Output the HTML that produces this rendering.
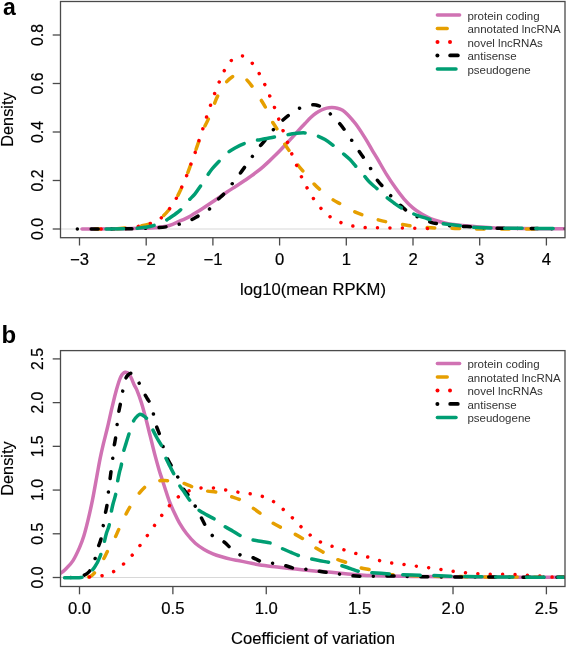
<!DOCTYPE html>
<html><head><meta charset="utf-8"><title>Density plots</title>
<style>
html,body{margin:0;padding:0;background:#fff;}
body{width:567px;height:645px;overflow:hidden;}
svg{display:block;font-family:"Liberation Sans", sans-serif;will-change:transform;}
</style></head>
<body>
<svg width="567" height="645" viewBox="0 0 567 645">
<rect width="567" height="645" fill="#fff"/>
<clipPath id="ca"><rect x="61.00" y="2.00" width="503.50" height="235.20"/></clipPath>
<line x1="60.50" y1="229.00" x2="565.00" y2="229.00" stroke="#d8d8d8" stroke-width="1.2"/>
<path id="ca_pink" d="M82.00,229.00 C86.67,228.97 100.33,228.92 110.00,228.80 C119.67,228.68 132.50,228.47 140.00,228.30 C147.50,228.13 150.10,228.27 155.00,227.80 C159.90,227.33 165.40,226.57 169.40,225.50 C173.40,224.43 176.40,222.52 179.00,221.40 C181.60,220.28 183.00,219.75 185.00,218.80 C187.00,217.85 189.00,216.82 191.00,215.70 C193.00,214.58 195.00,213.33 197.00,212.10 C199.00,210.87 201.00,209.60 203.00,208.30 C205.00,207.00 207.00,205.65 209.00,204.30 C211.00,202.95 213.00,201.57 215.00,200.20 C217.00,198.83 219.00,197.47 221.00,196.10 C223.00,194.73 225.00,193.33 227.00,192.00 C229.00,190.67 231.00,189.38 233.00,188.10 C235.00,186.82 237.00,185.60 239.00,184.30 C241.00,183.00 243.00,181.65 245.00,180.30 C247.00,178.95 249.00,177.63 251.00,176.20 C253.00,174.77 255.00,173.27 257.00,171.70 C259.00,170.13 261.00,168.52 263.00,166.80 C265.00,165.08 267.00,163.27 269.00,161.40 C271.00,159.53 273.00,157.58 275.00,155.60 C277.00,153.62 279.00,151.58 281.00,149.50 C283.00,147.42 285.00,145.25 287.00,143.10 C289.00,140.95 291.00,138.80 293.00,136.60 C295.00,134.40 297.00,132.08 299.00,129.90 C301.00,127.72 303.00,125.60 305.00,123.50 C307.00,121.40 309.13,119.05 311.00,117.30 C312.87,115.55 314.45,114.22 316.20,113.00 C317.95,111.78 319.75,110.82 321.50,110.00 C323.25,109.18 324.95,108.50 326.70,108.10 C328.45,107.70 330.23,107.58 332.00,107.60 C333.77,107.62 335.53,107.75 337.30,108.20 C339.07,108.65 340.90,109.25 342.60,110.30 C344.30,111.35 345.87,112.88 347.50,114.50 C349.13,116.12 350.75,118.05 352.40,120.00 C354.05,121.95 355.75,123.93 357.40,126.20 C359.05,128.47 360.65,131.03 362.30,133.60 C363.95,136.17 365.63,138.82 367.30,141.60 C368.97,144.38 370.65,147.50 372.30,150.30 C373.95,153.10 374.83,154.38 377.20,158.40 C379.57,162.42 383.48,169.53 386.50,174.40 C389.52,179.27 392.37,183.48 395.30,187.60 C398.23,191.72 401.17,195.72 404.10,199.10 C407.03,202.48 409.97,205.40 412.90,207.90 C415.83,210.40 418.77,212.33 421.70,214.10 C424.63,215.87 427.55,217.27 430.50,218.50 C433.45,219.73 436.45,220.62 439.40,221.50 C442.35,222.38 444.38,223.12 448.20,223.80 C452.02,224.48 457.60,225.10 462.30,225.60 C467.00,226.10 470.98,226.40 476.40,226.80 C481.82,227.20 487.53,227.72 494.80,228.00 C502.07,228.28 507.97,228.37 520.00,228.50 C532.03,228.63 559.17,228.75 567.00,228.80" fill="none" stroke="#D072B3" stroke-width="3.50" stroke-linecap="round" stroke-linejoin="round" clip-path="url(#ca)"/>
<path id="ca_orange" d="M95.00,229.00 C99.17,228.92 112.73,228.97 120.00,228.50 C127.27,228.03 133.65,226.98 138.60,226.20 C143.55,225.42 145.97,225.22 149.70,223.80 C153.43,222.38 157.72,220.13 161.00,217.70 C164.28,215.27 166.88,212.37 169.40,209.20 C171.92,206.03 174.07,202.27 176.10,198.70 C178.13,195.13 179.85,191.62 181.60,187.80 C183.35,183.98 185.05,179.75 186.60,175.80 C188.15,171.85 189.50,167.98 190.90,164.10 C192.30,160.22 193.65,156.38 195.00,152.50 C196.35,148.62 197.58,144.72 199.00,140.80 C200.42,136.88 201.97,132.57 203.50,129.00 C205.03,125.43 206.53,123.22 208.20,119.40 C209.87,115.58 211.93,109.98 213.50,106.10 C215.07,102.22 215.68,99.83 217.60,96.10 C219.52,92.37 222.53,86.93 225.00,83.70 C227.47,80.47 230.07,78.27 232.40,76.70 C234.73,75.13 236.72,73.88 239.00,74.30 C241.28,74.72 243.80,77.03 246.10,79.20 C248.40,81.37 250.45,84.07 252.80,87.30 C255.15,90.53 258.00,95.10 260.20,98.60 C262.40,102.10 264.08,104.63 266.00,108.30 C267.92,111.97 269.75,116.95 271.70,120.60 C273.65,124.25 275.63,126.48 277.70,130.20 C279.77,133.92 282.08,139.32 284.10,142.90 C286.12,146.48 287.60,148.17 289.80,151.70 C292.00,155.23 295.03,160.78 297.30,164.10 C299.57,167.42 300.67,168.35 303.40,171.60 C306.13,174.85 310.88,180.55 313.70,183.60 C316.52,186.65 317.25,187.32 320.30,189.90 C323.35,192.48 328.53,196.70 332.00,199.10 C335.47,201.50 337.45,202.25 341.10,204.30 C344.75,206.35 350.15,209.58 353.90,211.40 C357.65,213.22 359.78,213.87 363.60,215.20 C367.42,216.53 372.85,218.27 376.80,219.40 C380.75,220.53 383.20,221.18 387.30,222.00 C391.40,222.82 397.28,223.62 401.40,224.30 C405.52,224.98 407.85,225.58 412.00,226.10 C416.15,226.62 422.10,227.08 426.30,227.40 C430.50,227.72 433.08,227.85 437.20,228.00 C441.32,228.15 446.82,228.20 451.00,228.30 C455.18,228.40 456.47,228.48 462.30,228.60 C468.13,228.72 473.88,228.92 486.00,229.00 C498.12,229.08 526.83,229.08 535.00,229.10" fill="none" stroke="#E69F00" stroke-width="3.50" stroke-linecap="round" stroke-linejoin="round" stroke-dasharray="7.8 17.0" stroke-dashoffset="2.95" clip-path="url(#ca)"/>
<path id="ca_red" d="M100.90,229.00 C104.92,228.93 116.78,229.52 125.00,228.60 C133.22,227.68 144.20,225.27 150.20,223.50 C156.20,221.73 157.80,220.42 161.00,218.00 C164.20,215.58 166.88,212.22 169.40,209.00 C171.92,205.78 174.07,202.30 176.10,198.70 C178.13,195.10 179.85,191.22 181.60,187.40 C183.35,183.58 185.05,179.68 186.60,175.80 C188.15,171.92 189.47,167.98 190.90,164.10 C192.33,160.22 193.85,156.42 195.20,152.50 C196.55,148.58 197.72,144.57 199.00,140.60 C200.28,136.63 201.65,132.62 202.90,128.70 C204.15,124.78 205.23,121.00 206.50,117.10 C207.77,113.20 209.13,109.27 210.50,105.30 C211.87,101.33 213.25,97.18 214.70,93.30 C216.15,89.42 217.58,85.80 219.20,82.00 C220.82,78.20 222.35,74.12 224.40,70.50 C226.45,66.88 228.50,62.73 231.50,60.30 C234.50,57.87 238.93,55.40 242.40,55.90 C245.87,56.40 249.50,60.37 252.30,63.30 C255.10,66.23 257.12,69.95 259.20,73.50 C261.28,77.05 263.03,80.83 264.80,84.60 C266.57,88.37 268.18,92.28 269.80,96.10 C271.42,99.92 273.00,103.65 274.50,107.50 C276.00,111.35 277.35,115.27 278.80,119.20 C280.25,123.13 281.73,127.20 283.20,131.10 C284.67,135.00 286.13,138.72 287.60,142.60 C289.07,146.48 290.47,150.53 292.00,154.40 C293.53,158.27 295.18,161.98 296.80,165.80 C298.42,169.62 299.97,173.58 301.70,177.30 C303.43,181.02 305.20,184.50 307.20,188.10 C309.20,191.70 311.35,195.47 313.70,198.90 C316.05,202.33 318.50,205.67 321.30,208.70 C324.10,211.73 327.13,214.73 330.50,217.10 C333.87,219.47 337.67,221.38 341.50,222.90 C345.33,224.42 349.47,225.42 353.50,226.20 C357.53,226.98 361.58,227.33 365.70,227.60 C369.82,227.87 371.98,227.73 378.20,227.80 C384.42,227.87 394.67,227.87 403.00,228.00 C411.33,228.13 424.00,228.50 428.20,228.60" fill="none" stroke="#FF0000" stroke-width="3.50" stroke-linecap="round" stroke-linejoin="round" stroke-dasharray="0.01 12.39" stroke-dashoffset="12.00" clip-path="url(#ca)"/>
<path id="ca_black" d="M76.20,229.00 C80.03,229.00 91.23,229.03 99.20,229.00 C107.17,228.97 118.37,228.83 124.00,228.80 C129.63,228.77 127.75,228.97 133.00,228.80 C138.25,228.63 149.82,228.15 155.50,227.80 C161.18,227.45 163.33,227.25 167.10,226.70 C170.87,226.15 174.32,225.53 178.10,224.50 C181.88,223.47 186.45,221.92 189.80,220.50 C193.15,219.08 195.00,217.85 198.20,216.00 C201.40,214.15 205.83,212.03 209.00,209.40 C212.17,206.77 214.70,202.80 217.20,200.20 C219.70,197.60 221.53,196.50 224.00,193.80 C226.47,191.10 229.48,187.17 232.00,184.00 C234.52,180.83 236.85,177.80 239.10,174.80 C241.35,171.80 243.33,169.00 245.50,166.00 C247.67,163.00 249.80,159.97 252.10,156.80 C254.40,153.63 257.18,149.70 259.30,147.00 C261.42,144.30 262.47,143.47 264.80,140.60 C267.13,137.73 270.52,133.00 273.30,129.80 C276.08,126.60 278.82,123.92 281.50,121.40 C284.18,118.88 286.38,116.90 289.40,114.70 C292.42,112.50 296.07,109.78 299.60,108.20 C303.13,106.62 307.87,105.73 310.60,105.20 C313.33,104.67 314.10,104.62 316.00,105.00 C317.90,105.38 319.47,105.88 322.00,107.50 C324.53,109.12 328.28,112.03 331.20,114.70 C334.12,117.37 337.02,120.62 339.50,123.50 C341.98,126.38 343.93,129.00 346.10,132.00 C348.27,135.00 350.32,138.27 352.50,141.50 C354.68,144.73 357.08,148.32 359.20,151.40 C361.32,154.48 363.15,156.90 365.20,160.00 C367.25,163.10 369.43,166.57 371.50,170.00 C373.57,173.43 375.55,177.67 377.60,180.60 C379.65,183.53 381.45,184.90 383.80,187.60 C386.15,190.30 388.77,193.72 391.70,196.80 C394.63,199.88 398.60,203.57 401.40,206.10 C404.20,208.63 405.55,210.08 408.50,212.00 C411.45,213.92 415.35,215.88 419.10,217.60 C422.85,219.32 427.45,221.20 431.00,222.30 C434.55,223.40 436.80,223.55 440.40,224.20 C444.00,224.85 448.17,225.80 452.60,226.20 C457.03,226.60 462.43,226.38 467.00,226.60 C471.57,226.82 474.50,227.22 480.00,227.50 C485.50,227.78 491.17,228.13 500.00,228.30 C508.83,228.47 521.83,228.42 533.00,228.50 C544.17,228.58 561.33,228.75 567.00,228.80" fill="none" stroke="#000000" stroke-width="3.50" stroke-linecap="round" stroke-linejoin="round" stroke-dasharray="0.01 13.5 7.0 13.49" stroke-dashoffset="32.60" clip-path="url(#ca)"/>
<path id="ca_green" d="M95.00,229.00 C99.67,228.97 116.53,228.88 123.00,228.80 C129.47,228.72 130.13,228.75 133.80,228.50 C137.47,228.25 141.73,227.78 145.00,227.30 C148.27,226.82 150.23,226.58 153.40,225.60 C156.57,224.62 161.23,222.72 164.00,221.40 C166.77,220.08 167.33,219.53 170.00,217.70 C172.67,215.87 176.93,213.22 180.00,210.40 C183.07,207.58 185.90,203.57 188.40,200.80 C190.90,198.03 192.97,196.28 195.00,193.80 C197.03,191.32 198.62,188.82 200.60,185.90 C202.58,182.98 205.00,179.12 206.90,176.30 C208.80,173.48 210.02,171.45 212.00,169.00 C213.98,166.55 216.22,164.27 218.80,161.60 C221.38,158.93 224.80,155.27 227.50,153.00 C230.20,150.73 232.22,149.58 235.00,148.00 C237.78,146.42 240.87,144.73 244.20,143.50 C247.53,142.27 251.53,141.38 255.00,140.60 C258.47,139.82 261.77,139.40 265.00,138.80 C268.23,138.20 270.92,137.63 274.40,137.00 C277.88,136.37 282.47,135.58 285.90,135.00 C289.33,134.42 291.77,133.85 295.00,133.50 C298.23,133.15 301.77,132.57 305.30,132.90 C308.83,133.23 312.92,134.40 316.20,135.50 C319.48,136.60 322.12,137.82 325.00,139.50 C327.88,141.18 330.67,143.42 333.50,145.60 C336.33,147.78 339.25,150.27 342.00,152.60 C344.75,154.93 347.65,157.25 350.00,159.60 C352.35,161.95 353.85,164.13 356.10,166.70 C358.35,169.27 361.18,172.35 363.50,175.00 C365.82,177.65 367.78,180.35 370.00,182.60 C372.22,184.85 374.05,186.05 376.80,188.50 C379.55,190.95 383.63,194.88 386.50,197.30 C389.37,199.72 391.52,201.23 394.00,203.00 C396.48,204.77 398.40,206.20 401.40,207.90 C404.40,209.60 408.90,211.80 412.00,213.20 C415.10,214.60 417.50,215.42 420.00,216.30 C422.50,217.18 423.47,217.35 427.00,218.50 C430.53,219.65 437.37,222.20 441.20,223.20 C445.03,224.20 446.60,224.07 450.00,224.50 C453.40,224.93 457.90,225.35 461.60,225.80 C465.30,226.25 467.03,226.83 472.20,227.20 C477.37,227.57 484.13,227.82 492.60,228.00 C501.07,228.18 512.52,228.22 523.00,228.30 C533.48,228.38 550.08,228.47 555.50,228.50" fill="none" stroke="#009E73" stroke-width="3.50" stroke-linecap="round" stroke-linejoin="round" stroke-dasharray="17.3 13.7" stroke-dashoffset="19.85" clip-path="url(#ca)"/>
<rect x="60.50" y="1.50" width="504.50" height="236.20" fill="none" stroke="#4a4a4a" stroke-width="1.3"/>
<line x1="52.7" y1="229.00" x2="60.50" y2="229.00" stroke="#4a4a4a" stroke-width="1.3"/>
<text transform="translate(43.2,229.00) rotate(-90) scale(1,1.06)" text-anchor="middle" font-size="15.8" stroke="#000" stroke-width="0.2">0.0</text>
<line x1="52.7" y1="180.50" x2="60.50" y2="180.50" stroke="#4a4a4a" stroke-width="1.3"/>
<text transform="translate(43.2,180.50) rotate(-90) scale(1,1.06)" text-anchor="middle" font-size="15.8" stroke="#000" stroke-width="0.2">0.2</text>
<line x1="52.7" y1="132.00" x2="60.50" y2="132.00" stroke="#4a4a4a" stroke-width="1.3"/>
<text transform="translate(43.2,132.00) rotate(-90) scale(1,1.06)" text-anchor="middle" font-size="15.8" stroke="#000" stroke-width="0.2">0.4</text>
<line x1="52.7" y1="83.50" x2="60.50" y2="83.50" stroke="#4a4a4a" stroke-width="1.3"/>
<text transform="translate(43.2,83.50) rotate(-90) scale(1,1.06)" text-anchor="middle" font-size="15.8" stroke="#000" stroke-width="0.2">0.6</text>
<line x1="52.7" y1="35.00" x2="60.50" y2="35.00" stroke="#4a4a4a" stroke-width="1.3"/>
<text transform="translate(43.2,35.00) rotate(-90) scale(1,1.06)" text-anchor="middle" font-size="15.8" stroke="#000" stroke-width="0.2">0.8</text>
<line x1="79.50" y1="237.70" x2="79.50" y2="245.50" stroke="#4a4a4a" stroke-width="1.3"/>
<text transform="translate(79.50,264.60) scale(1.04,1)" text-anchor="middle" font-size="16" stroke="#000" stroke-width="0.2">−3</text>
<line x1="146.20" y1="237.70" x2="146.20" y2="245.50" stroke="#4a4a4a" stroke-width="1.3"/>
<text transform="translate(146.20,264.60) scale(1.04,1)" text-anchor="middle" font-size="16" stroke="#000" stroke-width="0.2">−2</text>
<line x1="212.90" y1="237.70" x2="212.90" y2="245.50" stroke="#4a4a4a" stroke-width="1.3"/>
<text transform="translate(212.90,264.60) scale(1.04,1)" text-anchor="middle" font-size="16" stroke="#000" stroke-width="0.2">−1</text>
<line x1="279.60" y1="237.70" x2="279.60" y2="245.50" stroke="#4a4a4a" stroke-width="1.3"/>
<text transform="translate(279.60,264.60) scale(1.04,1)" text-anchor="middle" font-size="16" stroke="#000" stroke-width="0.2">0</text>
<line x1="346.30" y1="237.70" x2="346.30" y2="245.50" stroke="#4a4a4a" stroke-width="1.3"/>
<text transform="translate(346.30,264.60) scale(1.04,1)" text-anchor="middle" font-size="16" stroke="#000" stroke-width="0.2">1</text>
<line x1="413.00" y1="237.70" x2="413.00" y2="245.50" stroke="#4a4a4a" stroke-width="1.3"/>
<text transform="translate(413.00,264.60) scale(1.04,1)" text-anchor="middle" font-size="16" stroke="#000" stroke-width="0.2">2</text>
<line x1="479.70" y1="237.70" x2="479.70" y2="245.50" stroke="#4a4a4a" stroke-width="1.3"/>
<text transform="translate(479.70,264.60) scale(1.04,1)" text-anchor="middle" font-size="16" stroke="#000" stroke-width="0.2">3</text>
<line x1="546.40" y1="237.70" x2="546.40" y2="245.50" stroke="#4a4a4a" stroke-width="1.3"/>
<text transform="translate(546.40,264.60) scale(1.04,1)" text-anchor="middle" font-size="16" stroke="#000" stroke-width="0.2">4</text>
<text transform="translate(313,294.90) scale(1.02,1)" text-anchor="middle" font-size="16.3" stroke="#000" stroke-width="0.15">log10(mean RPKM)</text>
<text transform="translate(13.2,119.60) rotate(-90) scale(1,1.0)" text-anchor="middle" font-size="16.3" stroke="#000" stroke-width="0.15">Density</text>
<line x1="437.40" y1="15.10" x2="459.60" y2="15.10" stroke="#D072B3" stroke-width="3.50" stroke-linecap="round"/>
<text x="467.4" y="19.70" font-size="11.5" fill="#333">protein coding</text>
<line x1="437.40" y1="28.55" x2="447.20" y2="28.55" stroke="#E69F00" stroke-width="3.50" stroke-linecap="round"/>
<text x="467.4" y="33.15" font-size="11.5" fill="#333">annotated lncRNA</text>
<circle cx="437.5" cy="42.00" r="2.0" fill="#FF0000"/>
<circle cx="450.0" cy="42.00" r="2.0" fill="#FF0000"/>
<text x="467.4" y="46.60" font-size="11.5" fill="#333">novel lncRNAs</text>
<circle cx="437.4" cy="55.45" r="2.0" fill="#000000"/>
<line x1="450.2" y1="55.45" x2="457.8" y2="55.45" stroke="#000000" stroke-width="3.80" stroke-linecap="round"/>
<text x="467.4" y="60.05" font-size="11.5" fill="#333">antisense</text>
<line x1="437.40" y1="68.90" x2="456.00" y2="68.90" stroke="#009E73" stroke-width="3.50" stroke-linecap="round"/>
<text x="467.4" y="73.50" font-size="11.5" fill="#333">pseudogene</text>
<text x="3.00" y="14.60" font-size="23.0" font-weight="bold">a</text>
<clipPath id="cb"><rect x="61.00" y="351.10" width="503.50" height="234.90"/></clipPath>
<line x1="60.50" y1="577.50" x2="565.00" y2="577.50" stroke="#d8d8d8" stroke-width="1.2"/>
<path id="cb_pink" d="M50.00,577.00 C51.67,576.43 57.25,575.07 60.00,573.60 C62.75,572.13 64.33,570.37 66.50,568.20 C68.67,566.03 70.83,564.03 73.00,560.60 C75.17,557.17 77.68,551.75 79.50,547.60 C81.32,543.45 82.45,540.40 83.90,535.70 C85.35,531.00 86.77,525.37 88.20,519.40 C89.63,513.43 91.05,507.13 92.50,499.90 C93.95,492.67 95.63,482.87 96.90,476.00 C98.17,469.13 99.05,463.92 100.10,458.70 C101.15,453.48 101.95,449.98 103.20,444.70 C104.45,439.42 106.13,433.18 107.60,427.00 C109.07,420.82 110.53,413.77 112.00,407.60 C113.47,401.43 114.93,395.13 116.40,390.00 C117.87,384.87 119.32,379.75 120.80,376.80 C122.28,373.85 123.82,372.60 125.30,372.30 C126.78,372.00 128.23,372.93 129.70,375.00 C131.17,377.07 132.87,382.10 134.10,384.70 C135.33,387.30 135.87,387.57 137.10,390.60 C138.33,393.63 140.03,398.20 141.50,402.90 C142.97,407.60 144.43,413.22 145.90,418.80 C147.37,424.38 148.83,430.52 150.30,436.40 C151.77,442.28 153.23,448.52 154.70,454.10 C156.17,459.68 157.88,465.75 159.10,469.90 C160.32,474.05 161.02,475.95 162.00,479.00 C162.98,482.05 163.77,484.47 165.00,488.20 C166.23,491.93 167.88,497.38 169.40,501.40 C170.92,505.42 172.43,508.72 174.10,512.30 C175.77,515.88 177.33,519.37 179.40,522.90 C181.47,526.43 183.85,530.12 186.50,533.50 C189.15,536.88 192.37,540.55 195.30,543.20 C198.23,545.85 201.17,547.63 204.10,549.40 C207.03,551.17 209.97,552.57 212.90,553.80 C215.83,555.03 218.77,555.92 221.70,556.80 C224.63,557.68 227.55,558.43 230.50,559.10 C233.45,559.77 236.45,560.22 239.40,560.80 C242.35,561.38 244.77,561.90 248.20,562.60 C251.63,563.30 255.17,564.27 260.00,565.00 C264.83,565.73 271.23,566.32 277.20,567.00 C283.17,567.68 289.60,568.45 295.80,569.10 C302.00,569.75 307.03,570.22 314.40,570.90 C321.77,571.58 330.40,572.42 340.00,573.20 C349.60,573.98 358.67,575.05 372.00,575.60 C385.33,576.15 402.00,576.27 420.00,576.50 C438.00,576.73 455.50,576.87 480.00,577.00 C504.50,577.13 552.50,577.25 567.00,577.30" fill="none" stroke="#D072B3" stroke-width="3.50" stroke-linecap="round" stroke-linejoin="round" clip-path="url(#cb)"/>
<path id="cb_orange" d="M80.00,577.50 C81.67,577.33 87.33,577.58 90.00,576.50 C92.67,575.42 93.87,573.68 96.00,571.00 C98.13,568.32 100.82,563.82 102.80,560.40 C104.78,556.98 105.92,554.18 107.90,550.50 C109.88,546.82 112.85,541.90 114.70,538.30 C116.55,534.70 117.28,532.60 119.00,528.90 C120.72,525.20 123.15,519.80 125.00,516.10 C126.85,512.40 127.92,510.27 130.10,506.70 C132.28,503.13 135.63,497.97 138.10,494.70 C140.57,491.43 142.75,489.05 144.90,487.10 C147.05,485.15 148.88,484.02 151.00,483.00 C153.12,481.98 155.60,481.40 157.60,481.00 C159.60,480.60 161.18,480.65 163.00,480.60 C164.82,480.55 166.50,480.55 168.50,480.70 C170.50,480.85 172.65,481.13 175.00,481.50 C177.35,481.87 179.72,482.02 182.60,482.90 C185.48,483.78 189.57,485.82 192.30,486.80 C195.03,487.78 196.70,488.12 199.00,488.80 C201.30,489.48 203.15,490.35 206.10,490.90 C209.05,491.45 213.88,491.62 216.70,492.10 C219.52,492.58 220.75,493.12 223.00,493.80 C225.25,494.48 227.37,495.22 230.20,496.20 C233.03,497.18 237.37,498.48 240.00,499.70 C242.63,500.92 243.98,502.20 246.00,503.50 C248.02,504.80 249.63,505.80 252.10,507.50 C254.57,509.20 258.48,511.95 260.80,513.70 C263.12,515.45 264.13,516.52 266.00,518.00 C267.87,519.48 269.45,521.00 272.00,522.60 C274.55,524.20 278.63,526.28 281.30,527.60 C283.97,528.92 285.90,529.50 288.00,530.50 C290.10,531.50 291.30,532.17 293.90,533.60 C296.50,535.03 301.08,537.53 303.60,539.10 C306.12,540.67 307.20,541.67 309.00,543.00 C310.80,544.33 311.90,545.48 314.40,547.10 C316.90,548.72 321.40,551.22 324.00,552.70 C326.60,554.18 327.87,554.90 330.00,556.00 C332.13,557.10 334.05,558.20 336.80,559.30 C339.55,560.40 343.80,561.62 346.50,562.60 C349.20,563.58 350.70,564.35 353.00,565.20 C355.30,566.05 357.43,566.93 360.30,567.70 C363.17,568.47 366.92,569.08 370.20,569.80 C373.48,570.52 376.70,571.22 380.00,572.00 C383.30,572.78 384.75,573.92 390.00,574.50 C395.25,575.08 406.33,575.25 411.50,575.50 C416.67,575.75 414.58,575.83 421.00,576.00 C427.42,576.17 436.83,576.33 450.00,576.50 C463.17,576.67 480.50,576.87 500.00,577.00 C519.50,577.13 555.83,577.25 567.00,577.30" fill="none" stroke="#E69F00" stroke-width="3.50" stroke-linecap="round" stroke-linejoin="round" stroke-dasharray="7.8 17.0" stroke-dashoffset="16.55" clip-path="url(#cb)"/>
<path id="cb_red" d="M89.30,577.00 C91.35,576.80 97.65,576.65 101.60,575.80 C105.55,574.95 109.38,573.83 113.00,571.90 C116.62,569.97 120.13,566.93 123.30,564.20 C126.47,561.47 129.25,558.58 132.00,555.50 C134.75,552.42 137.27,549.00 139.80,545.70 C142.33,542.40 144.77,539.05 147.20,535.70 C149.63,532.35 152.00,528.95 154.40,525.60 C156.80,522.25 159.13,518.88 161.60,515.60 C164.07,512.32 166.43,509.00 169.20,505.90 C171.97,502.80 174.93,499.50 178.20,497.00 C181.47,494.50 184.98,492.42 188.80,490.90 C192.62,489.38 197.05,488.40 201.10,487.90 C205.15,487.40 209.03,487.55 213.10,487.90 C217.17,488.25 221.38,489.30 225.50,490.00 C229.62,490.70 233.68,491.47 237.80,492.10 C241.92,492.73 246.12,493.08 250.20,493.80 C254.28,494.52 258.42,495.10 262.30,496.40 C266.18,497.70 270.00,499.43 273.50,501.60 C277.00,503.77 280.12,506.67 283.30,509.40 C286.48,512.13 289.65,515.12 292.60,518.00 C295.55,520.88 298.05,523.85 301.00,526.70 C303.95,529.55 307.08,532.57 310.30,535.10 C313.52,537.63 316.68,540.05 320.30,541.90 C323.92,543.75 328.02,544.87 332.00,546.20 C335.98,547.53 340.20,548.68 344.20,549.90 C348.20,551.12 352.02,552.30 356.00,553.50 C359.98,554.70 364.10,555.90 368.10,557.10 C372.10,558.30 376.02,559.70 380.00,560.70 C383.98,561.70 387.92,562.45 392.00,563.10 C396.08,563.75 400.37,564.08 404.50,564.60 C408.63,565.12 412.72,565.68 416.80,566.20 C420.88,566.72 424.88,567.15 429.00,567.70 C433.12,568.25 437.38,568.88 441.50,569.50 C445.62,570.12 449.62,570.87 453.70,571.40 C457.78,571.93 461.85,572.30 466.00,572.70 C470.15,573.10 474.42,573.53 478.60,573.80 C482.78,574.07 486.95,574.22 491.10,574.30 C495.25,574.38 499.33,574.27 503.50,574.30 C507.67,574.33 511.98,574.32 516.10,574.50 C520.22,574.68 524.17,575.15 528.20,575.40 C532.23,575.65 536.18,575.72 540.30,576.00 C544.42,576.28 548.45,576.88 552.90,577.10 C557.35,577.32 564.65,577.27 567.00,577.30" fill="none" stroke="#FF0000" stroke-width="3.50" stroke-linecap="round" stroke-linejoin="round" stroke-dasharray="0.01 12.39" stroke-dashoffset="12.00" clip-path="url(#cb)"/>
<path id="cb_black" d="M70.00,577.50 C71.95,577.25 78.48,577.00 81.70,576.00 C84.92,575.00 87.17,574.08 89.30,571.50 C91.43,568.92 93.13,564.25 94.50,560.50 C95.87,556.75 96.42,552.58 97.50,549.00 C98.58,545.42 100.08,542.63 101.00,539.00 C101.92,535.37 102.33,531.17 103.00,527.20 C103.67,523.23 104.33,518.90 105.00,515.20 C105.67,511.50 106.45,508.70 107.00,505.00 C107.55,501.30 107.83,497.00 108.30,493.00 C108.77,489.00 109.33,484.70 109.80,481.00 C110.27,477.30 110.63,474.37 111.10,470.80 C111.57,467.23 112.13,463.48 112.60,459.60 C113.07,455.72 113.38,451.22 113.90,447.50 C114.42,443.78 115.18,440.97 115.70,437.30 C116.22,433.63 116.55,429.38 117.00,425.50 C117.45,421.62 117.80,417.78 118.40,414.00 C119.00,410.22 119.90,406.52 120.60,402.80 C121.30,399.08 121.83,395.50 122.60,391.70 C123.37,387.90 124.30,382.78 125.20,380.00 C126.10,377.22 126.97,376.13 128.00,375.00 C129.03,373.87 130.23,372.95 131.40,373.20 C132.57,373.45 133.73,374.88 135.00,376.50 C136.27,378.12 137.53,380.22 139.00,382.90 C140.47,385.58 142.38,389.92 143.80,392.60 C145.22,395.28 146.47,397.23 147.50,399.00 C148.53,400.77 149.02,400.72 150.00,403.20 C150.98,405.68 152.35,410.15 153.40,413.90 C154.45,417.65 155.20,422.08 156.30,425.70 C157.40,429.32 158.85,432.05 160.00,435.60 C161.15,439.15 162.03,443.33 163.20,447.00 C164.37,450.67 165.50,454.23 167.00,457.60 C168.50,460.97 170.37,463.88 172.20,467.20 C174.03,470.52 176.12,473.85 178.00,477.50 C179.88,481.15 181.55,485.85 183.50,489.10 C185.45,492.35 187.63,493.97 189.70,497.00 C191.77,500.03 194.00,503.92 195.90,507.30 C197.80,510.68 199.40,514.07 201.10,517.30 C202.80,520.53 204.10,523.55 206.10,526.70 C208.10,529.85 210.10,533.65 213.10,536.20 C216.10,538.75 221.15,540.00 224.10,542.00 C227.05,544.00 228.02,546.00 230.80,548.20 C233.58,550.40 237.25,553.67 240.80,555.20 C244.35,556.73 248.52,556.27 252.10,557.40 C255.68,558.53 258.73,561.02 262.30,562.00 C265.87,562.98 269.63,562.68 273.50,563.30 C277.37,563.92 281.95,564.83 285.50,565.70 C289.05,566.57 291.23,567.88 294.80,568.50 C298.37,569.12 302.87,568.93 306.90,569.40 C310.93,569.87 315.43,570.77 319.00,571.30 C322.57,571.83 324.90,572.13 328.30,572.60 C331.70,573.07 335.42,573.57 339.40,574.10 C343.38,574.63 348.30,575.45 352.20,575.80 C356.10,576.15 359.02,576.13 362.80,576.20 C366.58,576.27 369.25,576.23 374.90,576.20 C380.55,576.17 391.07,575.93 396.70,576.00 C402.33,576.07 402.88,576.47 408.70,576.60 C414.52,576.73 423.05,576.73 431.60,576.80 C440.15,576.87 437.43,576.92 460.00,577.00 C482.57,577.08 549.17,577.25 567.00,577.30" fill="none" stroke="#000000" stroke-width="3.50" stroke-linecap="round" stroke-linejoin="round" stroke-dasharray="0.01 13.5 7.0 13.49" stroke-dashoffset="33.00" clip-path="url(#cb)"/>
<path id="cb_green" d="M50.00,577.60 C55.17,577.58 74.63,578.17 81.00,577.50 C87.37,576.83 85.92,575.33 88.20,573.60 C90.48,571.87 92.72,569.98 94.70,567.10 C96.68,564.22 98.60,560.12 100.10,556.30 C101.60,552.48 102.63,548.08 103.70,544.20 C104.77,540.32 105.60,536.12 106.50,533.00 C107.40,529.88 108.38,528.60 109.10,525.50 C109.82,522.40 110.15,517.98 110.80,514.40 C111.45,510.82 112.20,507.28 113.00,504.00 C113.80,500.72 114.88,498.20 115.60,494.70 C116.32,491.20 116.65,486.78 117.30,483.00 C117.95,479.22 118.83,474.97 119.50,472.00 C120.17,469.03 120.68,468.35 121.30,465.20 C121.92,462.05 122.42,456.72 123.20,453.10 C123.98,449.48 125.07,446.60 126.00,443.50 C126.93,440.40 127.72,437.87 128.80,434.50 C129.88,431.13 131.38,426.05 132.50,423.30 C133.62,420.55 134.33,419.50 135.50,418.00 C136.67,416.50 138.25,414.72 139.50,414.30 C140.75,413.88 141.85,414.85 143.00,415.50 C144.15,416.15 145.32,416.95 146.40,418.20 C147.48,419.45 148.52,421.23 149.50,423.00 C150.48,424.77 151.05,426.30 152.30,428.80 C153.55,431.30 155.43,435.12 157.00,438.00 C158.57,440.88 160.32,442.98 161.70,446.10 C163.08,449.22 164.00,453.47 165.30,456.70 C166.60,459.93 168.03,462.55 169.50,465.50 C170.97,468.45 172.50,471.20 174.10,474.40 C175.70,477.60 177.37,481.68 179.10,484.70 C180.83,487.72 182.65,489.80 184.50,492.50 C186.35,495.20 187.95,498.08 190.20,500.90 C192.45,503.72 195.37,507.13 198.00,509.40 C200.63,511.67 203.12,512.80 206.00,514.50 C208.88,516.20 212.28,517.67 215.30,519.60 C218.32,521.53 221.15,524.17 224.10,526.10 C227.05,528.03 230.12,529.52 233.00,531.20 C235.88,532.88 238.22,534.78 241.40,536.20 C244.58,537.62 248.67,538.82 252.10,539.70 C255.53,540.58 258.75,540.88 262.00,541.50 C265.25,542.12 268.30,542.25 271.60,543.40 C274.90,544.55 278.65,546.93 281.80,548.40 C284.95,549.87 287.55,550.95 290.50,552.20 C293.45,553.45 296.15,554.80 299.50,555.90 C302.85,557.00 307.18,558.00 310.60,558.80 C314.02,559.60 316.75,560.07 320.00,560.70 C323.25,561.33 326.50,561.78 330.10,562.60 C333.70,563.42 338.18,564.60 341.60,565.60 C345.02,566.60 347.60,567.62 350.60,568.60 C353.60,569.58 356.15,570.83 359.60,571.50 C363.05,572.17 366.00,572.17 371.30,572.60 C376.60,573.03 386.28,573.75 391.40,574.10 C396.52,574.45 397.07,574.50 402.00,574.70 C406.93,574.90 415.72,575.15 421.00,575.30 C426.28,575.45 428.87,575.45 433.70,575.60 C438.53,575.75 442.28,576.00 450.00,576.20 C457.72,576.40 468.33,576.65 480.00,576.80 C491.67,576.95 505.50,577.03 520.00,577.10 C534.50,577.17 559.17,577.18 567.00,577.20" fill="none" stroke="#009E73" stroke-width="3.50" stroke-linecap="round" stroke-linejoin="round" stroke-dasharray="17.3 13.7" stroke-dashoffset="16.45" clip-path="url(#cb)"/>
<rect x="60.50" y="350.60" width="504.50" height="235.90" fill="none" stroke="#4a4a4a" stroke-width="1.3"/>
<line x1="52.7" y1="577.50" x2="60.50" y2="577.50" stroke="#4a4a4a" stroke-width="1.3"/>
<text transform="translate(43.2,577.50) rotate(-90) scale(1,1.06)" text-anchor="middle" font-size="15.8" stroke="#000" stroke-width="0.2">0.0</text>
<line x1="52.7" y1="533.78" x2="60.50" y2="533.78" stroke="#4a4a4a" stroke-width="1.3"/>
<text transform="translate(43.2,533.78) rotate(-90) scale(1,1.06)" text-anchor="middle" font-size="15.8" stroke="#000" stroke-width="0.2">0.5</text>
<line x1="52.7" y1="490.06" x2="60.50" y2="490.06" stroke="#4a4a4a" stroke-width="1.3"/>
<text transform="translate(43.2,490.06) rotate(-90) scale(1,1.06)" text-anchor="middle" font-size="15.8" stroke="#000" stroke-width="0.2">1.0</text>
<line x1="52.7" y1="446.34" x2="60.50" y2="446.34" stroke="#4a4a4a" stroke-width="1.3"/>
<text transform="translate(43.2,446.34) rotate(-90) scale(1,1.06)" text-anchor="middle" font-size="15.8" stroke="#000" stroke-width="0.2">1.5</text>
<line x1="52.7" y1="402.62" x2="60.50" y2="402.62" stroke="#4a4a4a" stroke-width="1.3"/>
<text transform="translate(43.2,402.62) rotate(-90) scale(1,1.06)" text-anchor="middle" font-size="15.8" stroke="#000" stroke-width="0.2">2.0</text>
<line x1="52.7" y1="358.90" x2="60.50" y2="358.90" stroke="#4a4a4a" stroke-width="1.3"/>
<text transform="translate(43.2,358.90) rotate(-90) scale(1,1.06)" text-anchor="middle" font-size="15.8" stroke="#000" stroke-width="0.2">2.5</text>
<line x1="79.50" y1="586.50" x2="79.50" y2="594.30" stroke="#4a4a4a" stroke-width="1.3"/>
<text transform="translate(79.50,613.70) scale(1.04,1)" text-anchor="middle" font-size="16" stroke="#000" stroke-width="0.2">0.0</text>
<line x1="172.88" y1="586.50" x2="172.88" y2="594.30" stroke="#4a4a4a" stroke-width="1.3"/>
<text transform="translate(172.88,613.70) scale(1.04,1)" text-anchor="middle" font-size="16" stroke="#000" stroke-width="0.2">0.5</text>
<line x1="266.26" y1="586.50" x2="266.26" y2="594.30" stroke="#4a4a4a" stroke-width="1.3"/>
<text transform="translate(266.26,613.70) scale(1.04,1)" text-anchor="middle" font-size="16" stroke="#000" stroke-width="0.2">1.0</text>
<line x1="359.64" y1="586.50" x2="359.64" y2="594.30" stroke="#4a4a4a" stroke-width="1.3"/>
<text transform="translate(359.64,613.70) scale(1.04,1)" text-anchor="middle" font-size="16" stroke="#000" stroke-width="0.2">1.5</text>
<line x1="453.02" y1="586.50" x2="453.02" y2="594.30" stroke="#4a4a4a" stroke-width="1.3"/>
<text transform="translate(453.02,613.70) scale(1.04,1)" text-anchor="middle" font-size="16" stroke="#000" stroke-width="0.2">2.0</text>
<line x1="546.40" y1="586.50" x2="546.40" y2="594.30" stroke="#4a4a4a" stroke-width="1.3"/>
<text transform="translate(546.40,613.70) scale(1.04,1)" text-anchor="middle" font-size="16" stroke="#000" stroke-width="0.2">2.5</text>
<text transform="translate(313,643.90) scale(1.02,1)" text-anchor="middle" font-size="16.3" stroke="#000" stroke-width="0.15">Coefficient of variation</text>
<text transform="translate(13.2,468.55) rotate(-90) scale(1,1.0)" text-anchor="middle" font-size="16.3" stroke="#000" stroke-width="0.15">Density</text>
<line x1="437.40" y1="363.60" x2="459.60" y2="363.60" stroke="#D072B3" stroke-width="3.50" stroke-linecap="round"/>
<text x="467.4" y="368.20" font-size="11.5" fill="#333">protein coding</text>
<line x1="437.40" y1="377.05" x2="447.20" y2="377.05" stroke="#E69F00" stroke-width="3.50" stroke-linecap="round"/>
<text x="467.4" y="381.65" font-size="11.5" fill="#333">annotated lncRNA</text>
<circle cx="437.5" cy="390.50" r="2.0" fill="#FF0000"/>
<circle cx="450.0" cy="390.50" r="2.0" fill="#FF0000"/>
<text x="467.4" y="395.10" font-size="11.5" fill="#333">novel lncRNAs</text>
<circle cx="437.4" cy="403.95" r="2.0" fill="#000000"/>
<line x1="450.2" y1="403.95" x2="457.8" y2="403.95" stroke="#000000" stroke-width="3.80" stroke-linecap="round"/>
<text x="467.4" y="408.55" font-size="11.5" fill="#333">antisense</text>
<line x1="437.40" y1="417.40" x2="456.00" y2="417.40" stroke="#009E73" stroke-width="3.50" stroke-linecap="round"/>
<text x="467.4" y="422.00" font-size="11.5" fill="#333">pseudogene</text>
<text x="1.50" y="343.00" font-size="24.0" font-weight="bold">b</text>
</svg>
</body></html>
